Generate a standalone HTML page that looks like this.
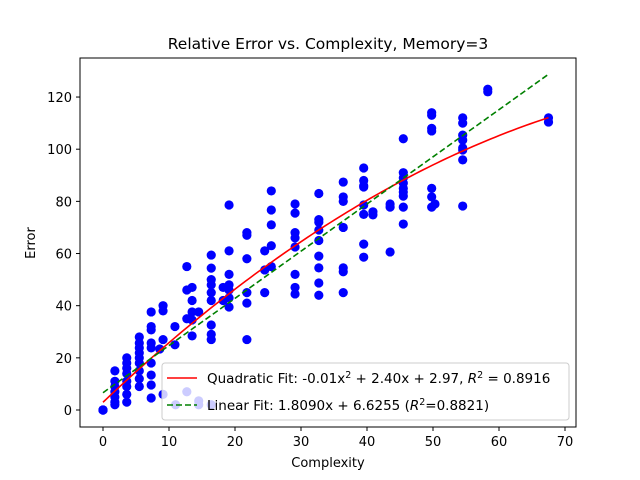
<!DOCTYPE html>
<html><head><meta charset="utf-8"><style>
body{margin:0;background:#fff}
svg{display:block;font-family:"DejaVu Sans","Liberation Sans",sans-serif}
</style></head><body>
<svg id="c" width="640" height="480">
<rect width="640" height="480" fill="#fff"/>
<text x="328" y="49" text-anchor="middle" font-size="15.5">Relative Error vs. Complexity, Memory=3</text>
<text x="328" y="467" text-anchor="middle" font-size="13">Complexity</text>
<text x="35" y="243" text-anchor="middle" font-size="13" transform="rotate(-90 35 243)">Error</text>
<g id="ticks"></g>
<g id="pts"></g>
<g id="fits"></g>
<rect x="80" y="58" width="496" height="369" fill="none" stroke="#000" stroke-width="1"/>
<g>
<rect x="162" y="363" width="407" height="57" rx="3" fill="#fff" fill-opacity="0.8" stroke="#ccc"/>
<line x1="167" y1="378" x2="197" y2="378" stroke="red" stroke-width="1.6"/>
<text x="207" y="383" font-size="13.5">Quadratic Fit: -0.01x<tspan dy="-5" font-size="9.5">2</tspan><tspan dy="5"> + 2.40x + 2.97, </tspan><tspan font-style="italic">R</tspan><tspan dy="-5" font-size="9.5">2</tspan><tspan dy="5"> = 0.8916</tspan></text>
<line x1="167" y1="405" x2="197" y2="405" stroke="green" stroke-width="1.6" stroke-dasharray="6,3"/>
<text x="207" y="410" font-size="13.5">Linear Fit: 1.8090x + 6.6255 (<tspan font-style="italic">R</tspan><tspan dy="-5" font-size="9.5">2</tspan><tspan dy="5">=0.8821)</tspan></text>
</g>
</svg>
<script>
const xTicks=[0,10,20,30,40,50,60,70];
const yTicks=[0,20,40,60,80,100,120];
const ptX=[0,0,0,0,
1.8,1.8,1.8,1.8,1.8,1.8,1.8,
3.6,3.6,3.6,3.6,3.6,3.6,3.6,3.6,
5.5,5.5,5.5,5.5,5.5,5.5,5.5,5.5,5.5,
7.3,7.3,7.3,7.3,7.3,7.3,7.3,7.3,7.3,
8.6,9.1,9.1,9.1,9.1,10.9,10.9,
12.7,12.7,12.7,13.5,13.5,13.5,13.5,13.5,14.5,
16.4,16.4,16.4,16.4,16.4,16.4,16.4,16.4,16.4,
18.2,18.2,19.1,19.1,19.1,19.1,19.1,19.1,19.1,
21.8,21.8,21.8,21.8,21.8,21.8,24.5,24.5,24.5,
25.5,25.5,25.5,25.5,25.5,
29.1,29.1,29.1,29.1,29.1,29.1,29.1,29.1,
32.7,32.7,32.7,32.7,32.7,32.7,32.7,32.7,32.7,
36.4,36.4,36.4,36.4,36.4,36.4,36.4,
39.5,39.5,39.5,39.5,39.5,39.5,39.5,39.5,40.9,40.9,
43.5,43.5,43.5,
45.5,45.5,45.5,45.5,45.5,45.5,45.5,45.5,45.5,
49.8,49.8,49.8,49.8,49.8,49.8,49.8,50.3,
54.5,54.5,54.5,54.5,54.5,54.5,54.5,54.5,
58.3,58.3,67.5,67.5,
12.7,11,14.5,14.5,16.4];
const ptY=[0,0,0,0,
15,11,9,7,5,3,2,
20,18,16,14,11,9,6,3,
28,25.7,23.8,21.9,20,18,15,12,9,
37.6,32,30.7,25.7,23.8,18,13.4,9.6,4.6,
23.4,40,38,27,6,32,25,
35,46,55,47,42,37.6,34.5,28.4,37.6,
59.4,54.4,50,48,45,42,32.6,29,27,
47,42,78.6,61,52,48,46,43,39.5,
68,67,58,45,41,27,61,53.7,45,
84,76.7,71,63,55,
79,75.5,68,66,62.5,52,47,44.5,
83,73,72,69,65,59,54.5,48.7,44,
87.4,81.7,80,70,54.5,53,45,
92.8,88,86,85.5,78.6,75,63.6,58.6,76,74.8,
79,77.8,60.6,
104,91,89,87,85,83.6,82,77.8,71.3,
114,113,108,107,85,81.7,77.8,79,
112,110,105.4,103.5,99.7,95.9,78.2,100.5,
123,122,112,110.4,
7,2,2,3.5,2];
const quadCoef=[-0.0116,2.40,2.97];
const linCoef=[1.809,6.6255];
const sx=v=>103+v*6.6, sy=v=>410-v*2.608;
const NS='http://www.w3.org/2000/svg';
function mk(t,a,p){const e=document.createElementNS(NS,t);for(const k in a)e.setAttribute(k,a[k]);p.appendChild(e);return e;}
const tg=document.getElementById('ticks');
xTicks.forEach(v=>{
 const l=mk('line',{x1:sx(v),x2:sx(v),y1:427,y2:431,stroke:'#000'},tg);
 
 
 const t=mk('text',{x:sx(v),y:446,'text-anchor':'middle','font-size':'13'},tg);t.textContent=v;
 
 
});
yTicks.forEach(v=>{
 const l=mk('line',{x1:76,x2:80,y1:sy(v),y2:sy(v),stroke:'#000'},tg);
 
 
 const t=mk('text',{x:72,y:sy(v)+5,'text-anchor':'end','font-size':'13'},tg);t.textContent=v;
 
 
});
const pg=document.getElementById('pts');
ptX.forEach((x,i)=>{
 const c=mk('circle',{cx:sx(x),cy:sy(ptY[i]),r:4.6,fill:'#0000ff'},pg);
 
 
});
const fg=document.getElementById('fits');
let q='',li='';
for(let i=0;i<=100;i++){const x=67.5*i/100;
 q+=(i?'L':'M')+sx(x)+','+sy(quadCoef[0]*x*x+quadCoef[1]*x+quadCoef[2]);
 li+=(i?'L':'M')+sx(x)+','+sy(linCoef[0]*x+linCoef[1]);}
const qp=mk('path',{d:q,fill:'none',stroke:'red','stroke-width':1.6},fg);


const lp=mk('path',{d:li,fill:'none',stroke:'green','stroke-width':1.6,'stroke-dasharray':'6,3'},fg);


</script>
</body></html>
